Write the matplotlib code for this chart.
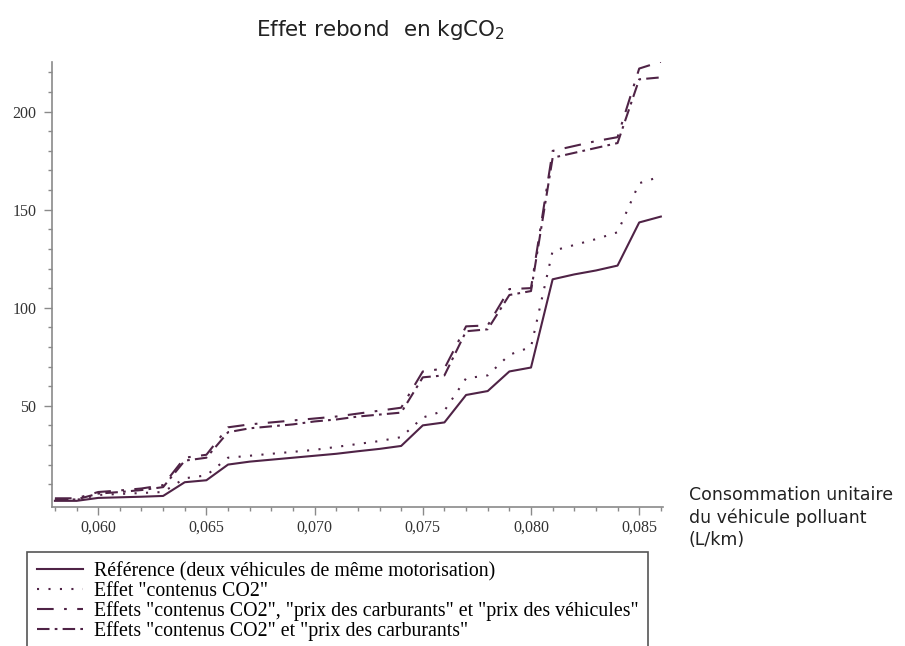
import numpy as np
import matplotlib.pyplot as plt
from matplotlib.ticker import FixedLocator, FuncFormatter

# donnees (consommation en L/km, effet rebond en kgCO2)
conso = [0.058, 0.059, 0.060, 0.061, 0.062, 0.063, 0.064, 0.065, 0.066, 0.067,
         0.068, 0.069, 0.070, 0.071, 0.072, 0.073, 0.074, 0.075, 0.076, 0.077,
         0.078, 0.079, 0.080, 0.081, 0.082, 0.083, 0.084, 0.085, 0.086]

reference = [1.5, 1.5, 3.0, 3.3, 3.6, 4.0, 11.0, 12.0, 20.0, 21.5,
             22.5, 23.5, 24.5, 25.5, 26.8, 28.0, 29.5, 40.0, 41.5, 55.5,
             57.5, 67.5, 69.5, 114.5, 117.0, 119.0, 121.5, 143.5, 146.5]

contenus_co2 = [2.0, 2.0, 4.5, 5.0, 5.5, 6.0, 13.0, 14.5, 23.5, 24.5,
                25.5, 26.5, 27.5, 29.0, 30.5, 32.0, 34.0, 44.0, 47.5, 64.0,
                65.5, 76.0, 80.0, 129.0, 132.0, 135.0, 138.5, 163.5, 167.0]

co2_carb_vehic = [2.8, 2.8, 6.0, 6.8, 7.8, 9.5, 23.5, 25.0, 39.0, 40.5,
                  41.5, 42.5, 43.5, 44.5, 46.0, 47.5, 49.0, 67.5, 69.0, 90.5,
                  91.0, 109.5, 110.0, 180.0, 182.5, 185.0, 187.0, 222.0, 225.5]

co2_carb = [2.2, 2.2, 5.2, 6.0, 7.0, 8.5, 22.0, 23.5, 36.5, 38.5,
            39.5, 40.5, 42.0, 43.0, 44.5, 45.5, 46.5, 64.5, 65.5, 88.0,
            89.0, 106.5, 108.5, 176.5, 179.0, 181.5, 184.0, 216.5, 217.5]

labels = [
    "Référence (deux véhicules de même motorisation)",
    'Effet "contenus CO2"',
    'Effets "contenus CO2", "prix des carburants" et "prix des véhicules"',
    'Effets "contenus CO2" et "prix des carburants"',
]

couleur = "#4f2346"

fig = plt.figure(figsize=(9.05, 6.46), dpi=100)
ax = fig.add_axes([0.0571, 0.2156, 0.6755, 0.6889])

ax.plot(conso, reference, color=couleur, lw=1.5, label=labels[0])
ax.plot(conso, contenus_co2, color=couleur, lw=1.5, linestyle=(0, (1, 4.5)), label=labels[1])
ax.plot(conso, co2_carb_vehic, color=couleur, lw=1.5, linestyle=(0, (8, 5, 1.3, 5)), label=labels[2])
ax.plot(conso, co2_carb, color=couleur, lw=1.5, linestyle=(0, (6, 2.5, 1.3, 2.5)), label=labels[3])

ax.set_xlim(0.05785, 0.0861)
ax.set_ylim(-1.5, 225.5)

# axes
for s in ["top", "right"]:
    ax.spines[s].set_visible(False)
for s in ["left", "bottom"]:
    ax.spines[s].set_color("#8a8a8a")
    ax.spines[s].set_linewidth(1.2)

ax.xaxis.set_major_locator(FixedLocator([0.060, 0.065, 0.070, 0.075, 0.080, 0.085]))
ax.xaxis.set_minor_locator(FixedLocator(np.arange(0.058, 0.0865, 0.001)))
ax.xaxis.set_major_formatter(FuncFormatter(lambda v, p: f"{v:.3f}".replace(".", ",")))
ax.yaxis.set_major_locator(FixedLocator([50, 100, 150, 200]))
ax.yaxis.set_minor_locator(FixedLocator(np.arange(10, 221, 10)))

ax.tick_params(which="major", length=6, width=1, color="#8a8a8a", labelsize=11.5,
               labelcolor="#333333", pad=5)
ax.tick_params(axis="x", which="major", pad=3)
ax.tick_params(which="minor", length=3, width=1, color="#8a8a8a")
for t in ax.get_xticklabels() + ax.get_yticklabels():
    t.set_family("Liberation Serif")

# titre et libelle de l'axe x
fig.text(0.421, 0.953, "Effet rebond  en kgCO$_2$", ha="center", va="center",
         fontsize=15.5, family="DejaVu Sans", color="#222222")
fig.text(0.761, 0.247, "Consommation unitaire\ndu véhicule polluant\n(L/km)",
         ha="left", va="top", fontsize=12.5, family="DejaVu Sans", color="#222222",
         linespacing=1.28)

# legende (le bas du cadre sort de la figure, comme sur l'original)
leg = fig.legend(loc="upper left", bbox_to_anchor=(0.0298, 0.1455), borderaxespad=0,
                 prop={"family": "Liberation Serif", "size": 14.3}, frameon=True,
                 fancybox=False, framealpha=1, edgecolor="#555555",
                 handlelength=2.3, handletextpad=0.55, labelspacing=0.02, borderpad=0.5)
leg.get_frame().set_linewidth(1.2)

plt.savefig("out.png", dpi=100)
